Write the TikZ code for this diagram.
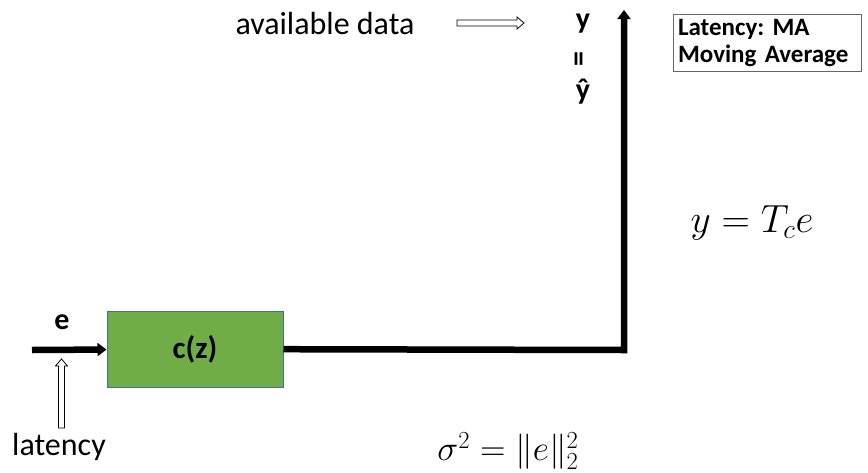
\documentclass[tikz,border=0pt]{standalone}
\usepackage{fontspec}
\setmainfont{Carlito}
\usepackage{amsmath}
\usepackage{graphicx}
\frenchspacing
\usetikzlibrary{arrows.meta,calc}
\definecolor{blockgreen}{HTML}{70AD47}
\definecolor{blockedge}{HTML}{41719C}
\tikzset{
  block/.style={draw=blockedge, line width=1pt, fill=blockgreen, minimum width=176pt, minimum height=76pt, font=\fontsize{31}{36}\selectfont\bfseries},
  lbl/.style={font=\fontsize{30}{33}\selectfont\bfseries, inner sep=0pt},
  txt/.style={font=\fontsize{32}{36}\selectfont, inner sep=0pt},
  eqn/.style={font=\fontsize{24}{28}\selectfont, inner sep=0pt},
  note/.style={draw=black!60, line width=0.8pt, align=left, text width=178pt, inner sep=5pt, font=\fontsize{25}{27}\selectfont\bfseries},
  sig/.style={line width=6.5pt, line join=miter, -{Triangle[length=9pt, width=13pt]}},
  hollow/.style={draw=black, fill=white, line width=0.8pt, to path={
    let \p1=($(\tikztotarget)-(\tikztostart)$), \n1={veclen(\x1,\y1)},
        \n2={\x1/\n1}, \n3={\y1/\n1}, \n4={\n1-7} in
    ($(\tikztostart)+({-3*\n3*1pt},{3*\n2*1pt})$)
    -- ($(\tikztostart)+({(\n4*\n2-3*\n3)*1pt},{(\n4*\n3+3*\n2)*1pt})$)
    -- ($(\tikztostart)+({(\n4*\n2-6*\n3)*1pt},{(\n4*\n3+6*\n2)*1pt})$)
    -- (\tikztotarget)
    -- ($(\tikztostart)+({(\n4*\n2+6*\n3)*1pt},{(\n4*\n3-6*\n2)*1pt})$)
    -- ($(\tikztostart)+({(\n4*\n2+3*\n3)*1pt},{(\n4*\n3-3*\n2)*1pt})$)
    -- ($(\tikztostart)+({3*\n3*1pt},{-3*\n2*1pt})$) -- cycle}},
}

\begin{document}
\begin{tikzpicture}[x=1pt, y=-1pt]
  \useasboundingbox (0,0) rectangle (868,472);
  % main loop
  \node[block] (cz) at (195,349) {c(z)};
  \coordinate (in) at (32,350);
  \coordinate (corner) at (624,350);
  \coordinate (out) at (624,10);
  \draw[sig] (in) -- (cz);
  \draw[sig] (cz) -- (corner) -- (out);
  \node[lbl] (e) at (62,322) {e};
  % latency input
  \node[txt] (lat) at (59,447) {latency};
  \coordinate (latbase) at (61.5,428);
  \coordinate (lattip) at (61.5,359);
  \draw[hollow] (latbase) to (lattip);
  % available data
  \node[txt] (avail) at (325,24) {available data};
  \coordinate (avfrom) at (457,23);
  \coordinate (avto) at (524,23);
  \draw[hollow] (avfrom) to (avto);
  \node[lbl] (ytop) at (583,24) {y};
  \node[lbl] (yeq) at (582,59) {\rotatebox{90}{=}};
  \node[lbl] (yhat) at (583,92) {ŷ};
  % notes and equations
  \node[note] (latbox) at (767,43) {Latency: MA\\Moving Average};
  \node[eqn, scale=1.58] (teq) at (752,223) {$y = T_c e$};
  \node[eqn, scale=1.42] (seq) at (508,451) {$\sigma^2 = \|e\|_2^2$};
\end{tikzpicture}
\end{document}
